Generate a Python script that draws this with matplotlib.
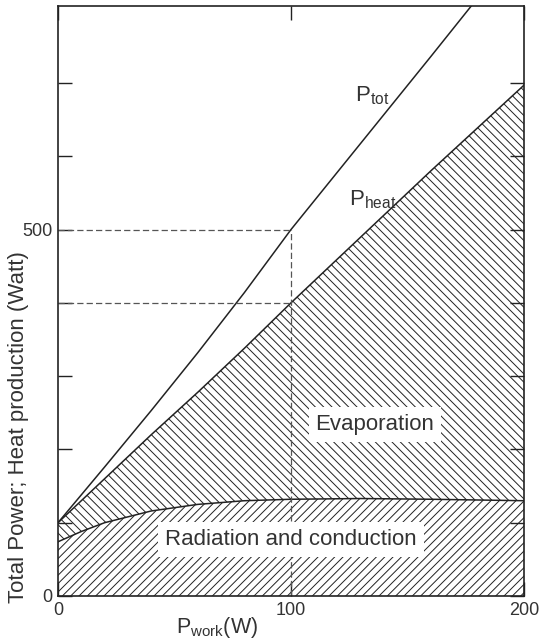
import matplotlib
matplotlib.use('Agg')
import matplotlib.pyplot as plt

# data
work = [0, 10, 20, 40, 60, 80, 100, 130, 160, 200]            # P_work (W)
p_tot = [100, 138, 176, 253, 332, 414, 500, 618, 736, 895]     # total power
p_heat = [100, 130, 160, 220, 278, 338, 400, 490, 580, 697]    # heat production
p_rad = [74, 88, 100, 116, 125, 130, 132, 133, 132, 130]       # radiation and conduction

y_ticks = [0, 100, 200, 300, 400, 500, 600, 700]
y_ticklabels = ['0', '', '', '', '', '500', '', '']
x_ticks = [0, 100, 200]
x_ticklabels = ['0', '100', '200']

plt.rcParams['font.family'] = ['Liberation Sans', 'DejaVu Sans']
plt.rcParams['mathtext.fontset'] = 'custom'
plt.rcParams['mathtext.rm'] = 'Liberation Sans'
plt.rcParams['hatch.linewidth'] = 0.7
txt = '#333333'
ink = '#222222'

fig = plt.figure(figsize=(5.4, 6.42), dpi=100)
ax = fig.add_axes([58 / 540, 1 - 596 / 642, 466 / 540, 590 / 642])
ax.set_xlim(0, 200)
ax.set_ylim(0, 805)

# hatched areas
ax.fill_between(work, 0, p_rad, facecolor='white', edgecolor=ink,
                hatch='////', linewidth=0)
ax.fill_between(work, p_rad, p_heat, facecolor='white', edgecolor=ink,
                hatch='\\\\\\\\', linewidth=0)

# curves
ax.plot(work, p_tot, color=ink, lw=1.1)
ax.plot(work, p_heat, color=ink, lw=1.1)
ax.plot(work, p_rad, color=ink, lw=1.1)

# dashed guide lines at 100 W
dash = (0, (5, 2.5))
ax.plot([0, 100], [500, 500], color='#555555', lw=0.9, ls=dash)
ax.plot([0, 100], [400, 400], color='#555555', lw=0.9, ls=dash)
ax.plot([100, 100], [0, 500], color='#555555', lw=0.9, ls=dash)

# labels in the plot
ax.text(135, 682, r'$\mathrm{P_{tot}}$', fontsize=16, color=txt, ha='center', va='center')
ax.text(135, 541, r'$\mathrm{P_{heat}}$', fontsize=16, color=txt, ha='center', va='center')
ax.text(136, 234, 'Evaporation', fontsize=16, color=txt, ha='center', va='center',
        bbox=dict(fc='white', ec='none', pad=5))
ax.text(100, 77, 'Radiation and conduction', fontsize=16, color=txt, ha='center', va='center',
        bbox=dict(fc='white', ec='none', pad=5))

# ticks
ax.set_yticks(y_ticks)
ax.set_yticklabels(y_ticklabels)
ax.set_xticks(x_ticks)
ax.set_xticklabels(x_ticklabels)
ax.tick_params(direction='in', length=10, width=1, colors=ink, labelcolor=txt,
               labelsize=13, top=True, right=True, pad=4)
for s in ax.spines.values():
    s.set_color(ink)
    s.set_linewidth(1.2)

fig.text(217 / 540, 1 - 627 / 642, r'$\mathrm{P_{work}(W)}$', fontsize=15.5, color=txt,
         ha='center', va='center')
fig.text(19 / 540, 1 - 427 / 642, 'Total Power; Heat production (Watt)', fontsize=16,
         color=txt, rotation=90, ha='center', va='center')

fig.savefig('out.png', dpi=100)
